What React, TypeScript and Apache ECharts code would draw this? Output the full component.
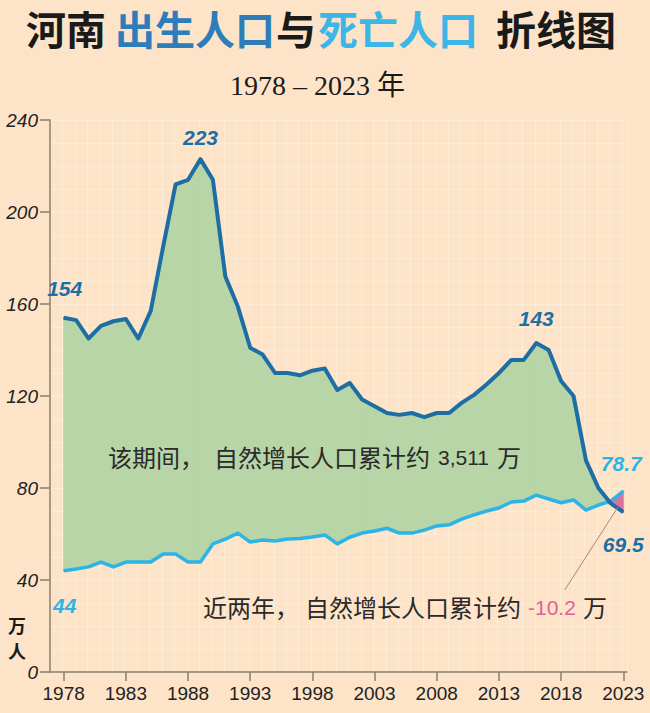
import React, { useEffect, useRef } from "react";
import * as echarts from "echarts";

const years = [
  1978, 1979, 1980, 1981, 1982, 1983, 1984, 1985, 1986, 1987,
  1988, 1989, 1990, 1991, 1992, 1993, 1994, 1995, 1996, 1997,
  1998, 1999, 2000, 2001, 2002, 2003, 2004, 2005, 2006, 2007,
  2008, 2009, 2010, 2011, 2012, 2013, 2014, 2015, 2016, 2017,
  2018, 2019, 2020, 2021, 2022, 2023,
];

// 出生人口（万人）
const births = [
  154, 153, 145, 150.5, 152.5, 153.5, 145, 157, 185, 212,
  214, 223, 214, 172, 159, 141, 138, 130, 130, 129,
  131, 132, 122.6, 125.7, 118.5, 115.5, 112.6, 111.8, 112.6, 110.8,
  112.6, 112.6, 117, 120.5, 125, 130, 135.7, 135.7, 143, 140,
  126.5, 120, 92, 80, 73.3, 69.5,
];

// 死亡人口（万人）
const deaths = [
  44, 44.8, 45.7, 47.8, 45.7, 47.8, 47.8, 47.8, 51.3, 51.3,
  47.8, 47.8, 55.7, 57.8, 60.4, 56.5, 57.4, 57, 57.8, 58,
  58.7, 59.6, 55.7, 58.6, 60.4, 61.3, 62.5, 60.4, 60.4, 61.7,
  63.5, 64, 66.5, 68.3, 70, 71.3, 73.9, 74.3, 76.9, 75.2,
  73.6, 74.8, 70.4, 72.6, 74.3, 78.7,
];

const xTickYears = [1978, 1983, 1988, 1993, 1998, 2003, 2008, 2013, 2018, 2023];
const birthLabelYears = [1978, 1989, 2016, 2023];
const deathLabelYears = [1978, 2023];

const totalGrowthText = "3,511";
const recentGrowthText = "-10.2";

// leader line endpoints (data coords) from the "-10.2" note to the pink area
const leaderFrom = [2022.55, 71.5];
const leaderTo = [2018.3, 35.7];

const BG = "#fde4c8";
const GREEN = "#b7d5a7";
const PINK = "#d8739f";
const BIRTH = "#1e6ea6";
const DEATH = "#2db4e6";
const AXIS = "#8b7c6c";
const CJK = "'Noto Sans CJK SC', 'Noto Sans', sans-serif";
const NUM = "'Liberation Sans Narrow', 'Liberation Sans', Arial, sans-serif";

const birthLabelStyle: Record<number, { position: string; distance: number; offset?: number[] }> = {
  1978: { position: "top", distance: 18, offset: [1, 0] },
  1989: { position: "top", distance: 11 },
  2016: { position: "top", distance: 14 },
  2023: { position: "bottom", distance: 21, offset: [0, 0] },
};
const deathLabelStyle: Record<number, { position: string; distance: number; offset?: number[] }> = {
  1978: { position: "bottom", distance: 24, offset: [1, 0] },
  2023: { position: "top", distance: 16, offset: [-2, 0] },
};

function txt(text: string, x: number, y: number, fill: string, fontSize: number, fontFamily: string, fontWeight: any = "normal", fontStyle: any = "normal", align = "left", lineHeight?: number) {
  return {
    type: "text",
    x,
    y,
    silent: true,
    z: 10,
    style: {
      text,
      fill,
      fontSize,
      fontFamily,
      fontWeight,
      fontStyle,
      lineHeight: lineHeight || fontSize,
      align,
      textAlign: align,
      verticalAlign: "middle",
      textVerticalAlign: "middle",
    },
  };
}

export default function App() {
  const ref = useRef<HTMLDivElement>(null);

  useEffect(() => {
    document.body.style.margin = "0";
    if (!ref.current) return;
    const chart = echarts.init(ref.current, null, { renderer: "svg" });

    const n = years.length;

    const lineData = (vals: number[], labelYears: number[], styles: any, color: string) =>
      vals.map((v, i) => {
        const yr = years[i];
        if (labelYears.includes(yr)) {
          const s = styles[yr];
          return {
            value: [yr, v],
            label: {
              show: true,
              position: s.position,
              distance: s.distance,
              offset: s.offset || [0, 0],
              formatter: (p: any) => String(p.value[1]),
              color,
              fontFamily: NUM,
              fontWeight: "bold",
              fontStyle: "italic",
              fontSize: 21,
            },
          };
        }
        return [yr, v];
      });

    const option: any = {
      animation: false,
      backgroundColor: BG,
      grid: {
        left: 50,
        right: 23,
        top: 120,
        bottom: 41,
        containLabel: false,
        outerBoundsMode: "none",
      },
      xAxis: [
        {
          type: "value",
          min: 1976.9,
          max: 2023.3,
          axisLine: { show: true, onZero: false, lineStyle: { color: AXIS, width: 1.5 } },
          axisTick: { show: true, length: 9, customValues: xTickYears, lineStyle: { color: AXIS, width: 1.5 } },
          axisLabel: {
            customValues: xTickYears,
            margin: 12,
            color: "#222",
            fontFamily: NUM,
            fontSize: 19,
            formatter: (v: number) => String(v),
          },
          splitLine: { show: false },
        },
        {
          type: "value",
          position: "top",
          min: 1976.9,
          max: 2023.3,
          interval: 1,
          axisLine: { show: false },
          axisTick: { show: false },
          axisLabel: { show: false },
          splitLine: { show: true, lineStyle: { color: "rgba(255,255,255,0.3)", width: 1 } },
        },
      ],
      yAxis: {
        type: "value",
        min: 0,
        max: 240,
        interval: 40,
        axisLine: { show: true, lineStyle: { color: AXIS, width: 1.5 } },
        axisTick: { show: true, length: 10, lineStyle: { color: AXIS, width: 1.5 } },
        axisLabel: {
          margin: 12,
          color: "#222",
          fontFamily: "'Liberation Sans', Arial, sans-serif",
          fontStyle: "italic",
          fontSize: 19,
        },
        splitLine: { show: true, lineStyle: { color: "rgba(255,255,255,0.3)", width: 1 } },
        minorTick: { show: false, splitNumber: 4 },
        minorSplitLine: { show: true, lineStyle: { color: "rgba(255,255,255,0.3)", width: 1 } },
      },
      series: [
        {
          type: "custom",
          name: "fill",
          silent: true,
          z: 1,
          xAxisIndex: 0,
          yAxisIndex: 0,
          clip: true,
          data: years.map((y, i) => [y, births[i], deaths[i]]),
          encode: { x: 0, y: [1, 2] },
          renderItem: (params: any, api: any) => {
            const i = params.dataIndex;
            if (i >= n - 1) return { type: "group", children: [] };
            const x0 = years[i], x1 = years[i + 1];
            const b0 = births[i], b1 = births[i + 1];
            const d0 = deaths[i], d1 = deaths[i + 1];
            const g0 = b0 - d0, g1 = b1 - d1;
            const P = (x: number, y: number) => api.coord([x, y]);
            const polys: { pts: number[][]; pos: boolean }[] = [];
            if (g0 * g1 >= 0) {
              polys.push({ pts: [P(x0, b0), P(x1, b1), P(x1, d1), P(x0, d0)], pos: g0 + g1 >= 0 });
            } else {
              const t = g0 / (g0 - g1);
              const xc = x0 + t * (x1 - x0);
              const yc = b0 + t * (b1 - b0);
              polys.push({ pts: [P(x0, b0), P(xc, yc), P(x0, d0)], pos: g0 > 0 });
              polys.push({ pts: [P(xc, yc), P(x1, b1), P(x1, d1)], pos: g1 > 0 });
            }
            return {
              type: "group",
              children: polys.map((p) => ({
                type: "polygon",
                shape: { points: p.pts },
                style: { fill: p.pos ? GREEN : PINK, stroke: p.pos ? GREEN : PINK, lineWidth: 0.8 },
              })),
            };
          },
        },
        {
          type: "line",
          name: "死亡人口",
          z: 3,
          data: lineData(deaths, deathLabelYears, deathLabelStyle, DEATH),
          symbol: "circle",
          symbolSize: 1,
          showSymbol: true,
          showAllSymbol: true,
          itemStyle: { color: DEATH },
          lineStyle: { color: DEATH, width: 3.5, join: "round" },
          emphasis: { disabled: true },
          markLine: {
            silent: true,
            symbol: ["none", "none"],
            label: { show: false },
            lineStyle: { color: "#a08c78", width: 1, type: "solid" },
            emphasis: { disabled: true },
            data: [[{ coord: leaderFrom }, { coord: leaderTo }]],
          },
        },
        {
          type: "line",
          name: "出生人口",
          z: 4,
          data: lineData(births, birthLabelYears, birthLabelStyle, BIRTH),
          symbol: "circle",
          symbolSize: 1,
          showSymbol: true,
          showAllSymbol: true,
          itemStyle: { color: BIRTH },
          lineStyle: { color: BIRTH, width: 4, join: "round" },
          emphasis: { disabled: true },
        },
      ],
      graphic: [
        txt("河南", 26, 28, "#1a1a1a", 40, CJK, "bold"),
        txt("出生人口", 115, 28, "#2c7db9", 40, CJK, "bold"),
        txt("与", 276, 28, "#1a1a1a", 40, CJK, "bold"),
        txt("死亡人口", 318, 28, "#3cb6e6", 40, CJK, "bold"),
        txt("折线图", 496, 28, "#1a1a1a", 40, CJK, "bold"),
        txt("1978 – 2023 年", 230, 85, "#1a1a1a", 28, "'Liberation Serif', 'Noto Sans CJK SC', serif"),
        txt("万", 17, 625, "#1a1a1a", 18, CJK, "bold", "normal", "center", 18),
        txt("人", 17, 650, "#1a1a1a", 18, CJK, "bold", "normal", "center", 18),
        txt("该期间，", 108, 456, "#2a2a2a", 24, CJK),
        txt("自然增长人口累计约", 214, 456, "#2a2a2a", 24, CJK),
        txt(totalGrowthText, 438, 457, "#2a2a2a", 21, "'Liberation Sans', Arial, sans-serif"),
        txt("万", 497, 456, "#2a2a2a", 24, CJK),
        txt("近两年，", 203, 606, "#2a2a2a", 24, CJK),
        txt("自然增长人口累计约", 305, 606, "#2a2a2a", 24, CJK),
        txt(recentGrowthText, 528, 607, "#e0609a", 21, "'Liberation Sans', Arial, sans-serif"),
        txt("万", 583, 606, "#2a2a2a", 24, CJK),
      ],
    };

    chart.setOption(option);
    return () => {
      chart.dispose();
    };
  }, []);

  return <div ref={ref} style={{ width: 650, height: 713, background: BG }} />;
}
